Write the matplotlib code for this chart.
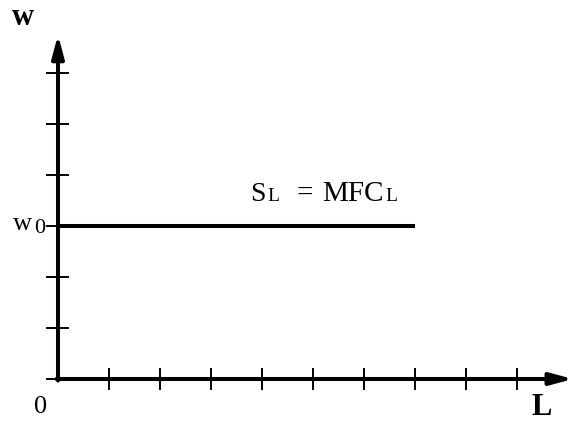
import matplotlib
matplotlib.use('Agg')
import matplotlib.pyplot as plt

# data (in tick units)
x_ticks = [1, 2, 3, 4, 5, 6, 7, 8, 9]
y_ticks = [0, 1, 2, 3, 4, 5, 6]
w0 = 3            # wage level of the supply / MFC line
L_end = 7         # horizontal line runs from L=0 to here
x_arrow = 10.1
y_arrow = 6.75

plt.rcParams['font.family'] = ['Liberation Serif', 'DejaVu Serif']

fig = plt.figure(figsize=(5.73, 4.28), dpi=100)
ax = fig.add_axes([0, 0, 1, 1])
ax.set_xlim(-58 / 51, 515 / 51)
ax.set_ylim(-49 / 51, 379 / 51)
ax.axis('off')

axis_lw = 2.9
tick_lw = 1.4


def px(x, y):
    # pixel position in the picture -> data units (origin at 58, 379, 51 px per unit)
    return (x - 58) / 51, (379 - y) / 51


# axes with arrow heads
arrow = dict(arrowstyle='-|>,head_length=0.45,head_width=0.12', lw=axis_lw,
             color='black', mutation_scale=30, shrinkA=0, shrinkB=0)
ax.annotate('', xy=(x_arrow, 0), xytext=(-0.03, 0), arrowprops=arrow)
ax.annotate('', xy=(0, y_arrow), xytext=(0, -0.03), arrowprops=arrow)

# ticks
for xt in x_ticks:
    ax.plot([xt, xt], [-0.19, 0.19], color='black', lw=tick_lw)
for yt in y_ticks:
    right = 0 if yt == 0 else 0.2
    ax.plot([-0.21, right], [yt, yt], color='black', lw=tick_lw)

# S_L = MFC_L line
ax.plot([0, L_end], [w0, w0], color='black', lw=axis_lw, solid_capstyle='butt')

# label pieces: (text, x pixel, baseline pixel, size)
line_label = [('S', 250, 201, 20), ('L', 267, 201, 14), ('=', 296, 201, 21),
              ('MFC', 322, 201, 21), ('L', 385, 201, 14)]
for s, x, y, size in line_label:
    ax.text(*px(x, y), s, fontsize=size, va='baseline', ha='left')

ax.text(*px(13, 230), 'w', fontsize=19, va='baseline', ha='left')
ax.text(*px(34, 233), '0', fontsize=16, va='baseline', ha='left')

ax.text(*px(34, 413), '0', fontsize=19, va='baseline', ha='left')
ax.text(*px(12, 25), 'w', fontsize=22, fontweight='bold', va='baseline', ha='left')
ax.text(*px(531, 415), 'L', fontsize=22, fontweight='bold', va='baseline', ha='left')

fig.savefig('out.png', dpi=100)
